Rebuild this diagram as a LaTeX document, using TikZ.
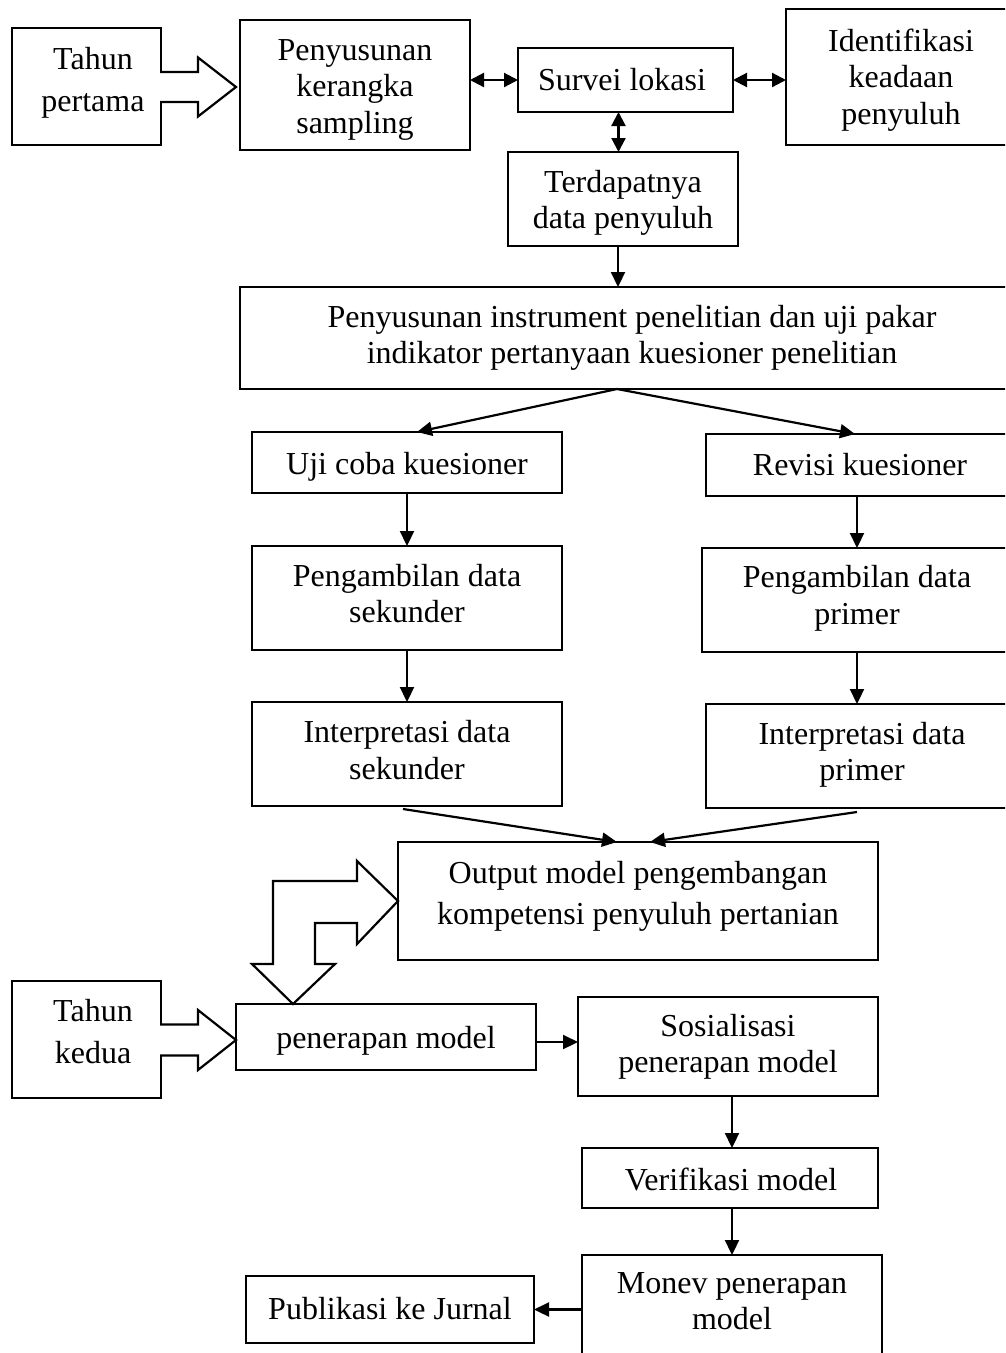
\documentclass[tikz,border=0pt]{standalone}
\usepackage{fontspec}
\setmainfont{Liberation Serif}
\usetikzlibrary{arrows.meta,calc}

\begin{document}
\begin{tikzpicture}[x=1pt,y=-1pt,
  box/.style={draw, line width=2.2pt, rectangle, inner sep=0pt, outer sep=0pt},
  lbl/.style={inner sep=0pt, align=center, font=\fontsize{32}{36.5}\selectfont,
    execute at begin node=\strut, execute at end node=\strut, yshift=-2.5pt},
  wide/.style={font=\fontsize{32}{41.7}\selectfont, yshift=-2.5pt},
  link/.style={line width=2.2pt, -{Triangle[length=15pt,width=14pt]}},
  link2/.style={line width=2.2pt, {Triangle[length=14pt,width=14pt]}-{Triangle[length=14pt,width=14pt]}},
  fat/.style={draw, line width=2.2pt, fill=white, line join=miter},
]
\useasboundingbox (0,0) rectangle (1005,1353);
\clip (0,0) rectangle (1005,1353);
\fill[white] (0,0) rectangle (1005,1353);

% ---------- boxes ----------
\node[box, minimum width=149, minimum height=117] (tp)  at (86.5,86.5)  {};
\node[box, minimum width=230, minimum height=130] (pks) at (355,85)     {};
\node[box, minimum width=215, minimum height=64]  (sur) at (625.5,80)   {};
\node[box, minimum width=230, minimum height=136] (idn) at (901,77)     {};
\node[box, minimum width=230, minimum height=94]  (ter) at (623,199)    {};
\node[box, minimum width=780, minimum height=102] (ins) at (630,338)    {};
\node[box, minimum width=310, minimum height=61]  (uji) at (407,462.5)  {};
\node[box, minimum width=308, minimum height=62]  (rev) at (860,465)    {};
\node[box, minimum width=310, minimum height=104] (pas) at (407,598)    {};
\node[box, minimum width=310, minimum height=104] (pap) at (857,600)    {};
\node[box, minimum width=310, minimum height=104] (ias) at (407,754)    {};
\node[box, minimum width=312, minimum height=104] (iap) at (862,756)    {};
\node[box, minimum width=480, minimum height=118] (out) at (638,901)    {};
\node[box, minimum width=149, minimum height=117] (tk)  at (86.5,1039.5){};
\node[box, minimum width=300, minimum height=66]  (pen) at (386,1037)   {};
\node[box, minimum width=300, minimum height=99]  (sos) at (728,1046.5) {};
\node[box, minimum width=296, minimum height=60]  (ver) at (730,1178)   {};
\node[box, minimum width=300, minimum height=125] (mon) at (732,1317.5) {};
\node[box, minimum width=288, minimum height=67]  (pub) at (390,1309.5) {};

% ---------- labels ----------
\node[lbl, wide] (tp-t)  at (93,80.8)    {Tahun\\pertama};
\node[lbl] (pks-t) at (355,89.4)   {Penyusunan\\kerangka\\sampling};
\node[lbl] (sur-t) at (622,81)     {Survei lokasi};
\node[lbl] (idn-t) at (901,79.4)   {Identifikasi\\keadaan\\penyuluh};
\node[lbl] (ter-t) at (623,202.4)  {Terdapatnya\\data penyuluh};
\node[lbl] (ins-t) at (632,337.2)  {Penyusunan instrument penelitian dan uji pakar\\indikator pertanyaan kuesioner penelitian};
\node[lbl] (uji-t) at (407,464.4)  {Uji coba kuesioner};
\node[lbl] (rev-t) at (860,466)    {Revisi kuesioner};
\node[lbl] (pas-t) at (407,596.4)  {Pengambilan data\\sekunder};
\node[lbl] (pap-t) at (857,597.7)  {Pengambilan data\\primer};
\node[lbl] (ias-t) at (407,752.7)  {Interpretasi data\\sekunder};
\node[lbl] (iap-t) at (862,754.4)  {Interpretasi data\\primer};
\node[lbl, wide] (out-t) at (638,894.2) {Output model pengembangan\\kompetensi penyuluh pertanian};
\node[lbl, wide] (tk-t)  at (93,1032.5) {Tahun\\kedua};
\node[lbl] (pen-t) at (386,1038.7) {penerapan model};
\node[lbl] (sos-t) at (728,1046.3) {Sosialisasi\\penerapan model};
\node[lbl] (ver-t) at (731,1180.4) {Verifikasi model};
\node[lbl] (mon-t) at (732,1304)   {Monev penerapan\\model};
\node[lbl] (pub-t) at (390,1310)   {Publikasi ke Jurnal};

% ---------- helper points ----------
\coordinate (s1)  at ([xshift=-7pt]sur.south);
\coordinate (s2)  at ([xshift=-5pt]ter.south);
\coordinate (apx) at ([xshift=-13pt]ins.south);
\coordinate (s3)  at ([yshift=-5pt]pen.east);
\coordinate (s4)  at ([xshift=2pt]ver.north);
\coordinate (s5)  at ([xshift=2pt]ver.south);
\coordinate (tip1) at ([xshift=-4pt,yshift=-2pt]pks.west);
\coordinate (tip2) at ([yshift=-3pt]pen.west);
\coordinate (tip3) at ([xshift=-93pt]pen.north);

% ---------- connectors ----------
\draw[link2] (pks.east |- sur.west) -- (sur.west);
\draw[link2] (sur.east) -- (sur.east -| idn.west);
\draw[link2] (s1) -- (s1 |- ter.north);
\draw[link] (s2) -- (s2 |- ins.north);
\draw[link] (apx) -- ([xshift=10pt]uji.north);
\draw[link] (apx) -- ([xshift=-5pt]rev.north);
\draw[link] (uji.south) -- (pas.north);
\draw[link] (pas.south) -- (ias.north);
\draw[link] (pap.north |- rev.south) -- (pap.north);
\draw[link] (pap.south) -- (pap.south |- iap.north);
\draw[link] ([xshift=-4pt,yshift=-3pt]ias.south) -- ([xshift=-21pt]out.north);
\draw[link] ([xshift=-5pt,yshift=-4pt]iap.south) -- ([xshift=12pt]out.north);
\draw[link] (s3) -- (s3 -| sos.west);
\draw[link] (s4 |- sos.south) -- (s4);
\draw[link] (s5) -- (s5 |- mon.north);
\draw[link] (pub.east -| mon.west) -- (pub.east);

% ---------- block arrows ----------
\draw[fat] let \p1=(tp.east), \p2=(tip1) in
  (\x1-1pt,\y2+15pt) -- (\x2-38pt,\y2+15pt) -- (\x2-38pt,\y2+29.5pt) -- (\p2)
  -- (\x2-38pt,\y2-29.5pt) -- (\x2-38pt,\y2-15pt) -- (\x1-1pt,\y2-15pt);
\draw[fat] let \p1=(tk.east), \p2=(tip2) in
  (\x1-1pt,\y2+15.5pt) -- (\x2-38pt,\y2+15.5pt) -- (\x2-38pt,\y2+30pt) -- (\p2)
  -- (\x2-38pt,\y2-30pt) -- (\x2-38pt,\y2-15.5pt) -- (\x1-1pt,\y2-15.5pt);
\draw[fat] let \p1=(out.west), \p2=(tip3) in
  (\p1) -- (\x1-41pt,\y1+40pt) -- (\x1-41pt,\y1+20pt) -- (\x2-20pt,\y1+20pt)
  -- (\x2-20pt,\y2+40pt) -- (\x2-41pt,\y2+40pt) -- (\p2) -- (\x2+42pt,\y2+40pt)
  -- (\x2+22pt,\y2+40pt) -- (\x2+22pt,\y1-22pt) -- (\x1-41pt,\y1-22pt)
  -- (\x1-41pt,\y1-43pt) -- cycle;
\end{tikzpicture}
\end{document}
